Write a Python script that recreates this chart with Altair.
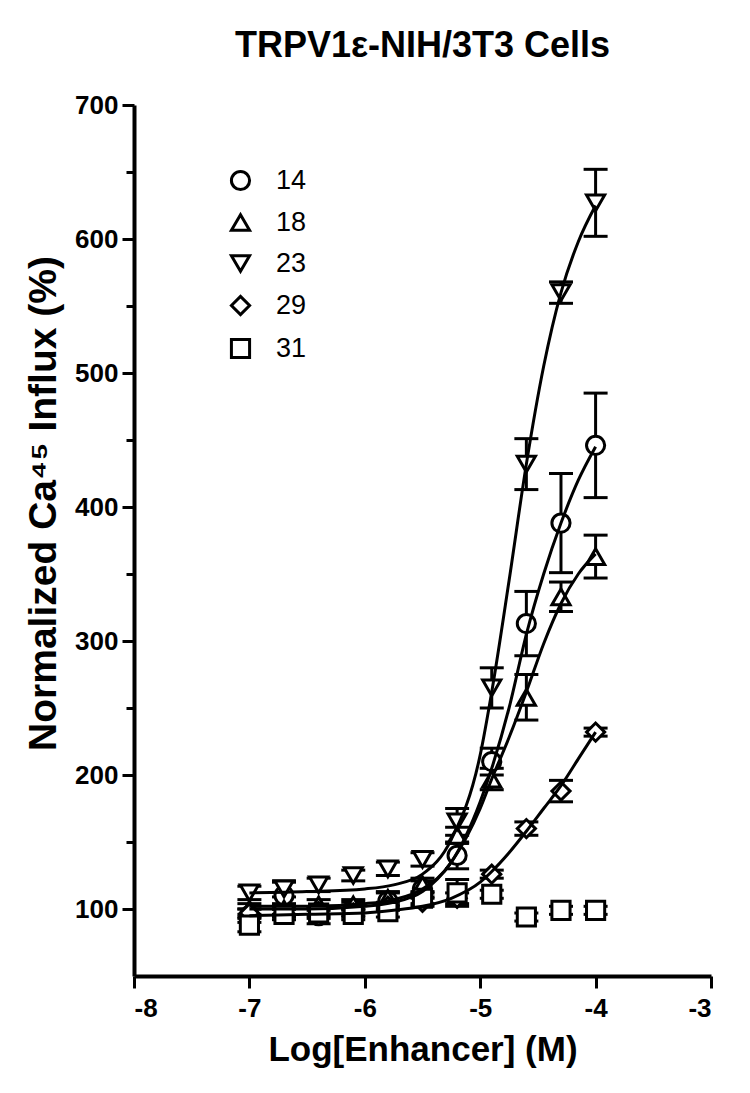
import altair as alt
import pandas as pd

# ---- data ----
x_vals = [-7.0, -6.7, -6.4, -6.1, -5.8, -5.5, -5.2, -4.9, -4.6, -4.3, -4.0]
series_names = ["14", "18", "23", "29", "31"]
shapes = ["circle", "triangle-up", "triangle-down", "diamond", "square"]

s14 = [95, 110, 95, 100, 106, 115, 140, 210, 313, 388, 446]
s18 = [100, 100, 103, 103, 108, 118, 155, 197, 258, 333, 363]
s23 = [112, 115, 118, 125, 130, 137, 165, 265, 432, 560, 627]
s29 = [97, 97, 98, 97, 102, 105, 108, 126, 160, 188, 232]
s31 = [88, 96, 97, 96, 98, 108, 112, 111, 94, 99, 99]

e14 = [5, 10, 6, 5, 6, 6, 10, 10, 24, 37, 39]
e18 = [4, 4, 4, 4, 5, 5, 6, 8, 17, 11, 16]
e23 = [5, 6, 5, 4, 5, 5, 10, 15, 19, 8, 25]
e29 = [3, 3, 3, 3, 3, 3, 4, 3, 5, 8, 3]
e31 = [5, 4, 4, 4, 4, 4, 10, 3, 3, 3, 3]

# fitted curves
curve_x = [-7.0, -6.5, -6.0, -5.75, -5.5, -5.25, -5.0, -4.9, -4.75, -4.6, -4.45, -4.3, -4.15, -4.0]
c14 = [102, 102, 104, 107, 115, 135, 180, 205, 250, 305, 350, 388, 420, 445]
c18 = [100, 100, 102, 105, 113, 135, 175, 197, 228, 262, 298, 328, 350, 365]
c23 = [112, 113, 115, 118, 126, 152, 215, 262, 345, 432, 505, 560, 598, 625]
c29 = [95, 96, 97, 99, 102, 108, 120, 128, 142, 158, 175, 192, 212, 232]

# ---- tables ----
pt_rows = []
for name, ys, es in zip(series_names, [s14, s18, s23, s29, s31], [e14, e18, e23, e29, e31]):
    for x, y, e in zip(x_vals, ys, es):
        pt_rows.append({"x": x, "y": y, "lo": y - e, "hi": y + e, "series": name})
pts = pd.DataFrame(pt_rows)

cv_rows = []
for name, ys in zip(["14", "18", "23", "29"], [c14, c18, c23, c29]):
    for x, y in zip(curve_x, ys):
        cv_rows.append({"x": x, "y": y, "series": name})
curves = pd.DataFrame(cv_rows)

FONT = "Liberation Sans"

x_axis = alt.Axis(values=[-8, -7, -6, -5, -4, -3], title="Log[Enhancer] (M)",
                  labelExpr="toString(datum.value)",
                  tickSize=12, labelPadding=7, titlePadding=11, titleFontSize=35)
y_axis = alt.Axis(values=list(range(100, 701, 50)), title="Normalized Ca⁴⁵ Influx (%)",
                  labelExpr="datum.value % 100 == 0 ? toString(datum.value) : ''",
                  tickSize={"condition": {"test": "datum.value % 100 == 0", "value": 12}, "value": 8},
                  labelPadding=4, titlePadding=11, titleFontSize=39, titleY=398)

xs = alt.Scale(domain=[-8, -3], nice=False)
ys_ = alt.Scale(domain=[50, 700], nice=False, zero=False)

X = alt.X("x:Q", scale=xs, axis=x_axis)
Y = alt.Y("y:Q", scale=ys_, axis=y_axis)

bars = alt.Chart(pts).mark_rule(color="black", strokeWidth=3, opacity=1).encode(
    x=X, y=alt.Y("lo:Q", scale=ys_, axis=y_axis), y2="hi:Q")
cap_lo = alt.Chart(pts).mark_tick(color="black", orient="horizontal", size=24, thickness=3,
                                  opacity=1).encode(
    x=X, y=alt.Y("lo:Q", scale=ys_, axis=y_axis))
cap_hi = alt.Chart(pts).mark_tick(color="black", orient="horizontal", size=24, thickness=3,
                                  opacity=1).encode(
    x=X, y=alt.Y("hi:Q", scale=ys_, axis=y_axis))

leg = alt.Legend(title=None, orient="none", legendX=93, legendY=62,
                 labelFontSize=27, labelFont=FONT, labelFontWeight="normal", labelColor="black",
                 symbolSize=330, symbolStrokeWidth=3, symbolFillColor="white",
                 symbolStrokeColor="black", symbolOpacity=1, rowPadding=12, labelOffset=22)

markers = alt.Chart(pts).mark_point(size=330, filled=False, fill="white", strokeWidth=3,
                                    opacity=1, fillOpacity=1).encode(
    x=X, y=Y,
    shape=alt.Shape("series:N", scale=alt.Scale(domain=series_names, range=shapes), legend=leg),
    color=alt.Color("series:N", scale=alt.Scale(domain=series_names, range=["black"] * 5), legend=leg),
)

lines = alt.Chart(curves).mark_line(color="black", strokeWidth=3, interpolate="monotone").encode(
    x=X, y=Y, detail="series:N")

chart = alt.layer(bars, cap_lo, cap_hi, markers, lines).properties(
    width=577, height=871,
    title=alt.TitleParams("TRPV1ε-NIH/3T3 Cells", fontSize=36, font=FONT, fontWeight="bold",
                          anchor="middle", frame="group", offset=27),
    padding={"left": 16, "top": 20, "right": 20, "bottom": 10},
).configure_view(stroke=None).configure_axis(
    grid=False, domainColor="black", domainWidth=4, tickColor="black", tickWidth=3,
    labelFont=FONT, labelFontSize=26, labelFontWeight="bold", labelColor="black",
    titleFont=FONT, titleFontWeight="bold", titleColor="black",
    labelOverlap=False,
)

chart.save("out.html", embed_options={"renderer": "svg", "actions": False})
